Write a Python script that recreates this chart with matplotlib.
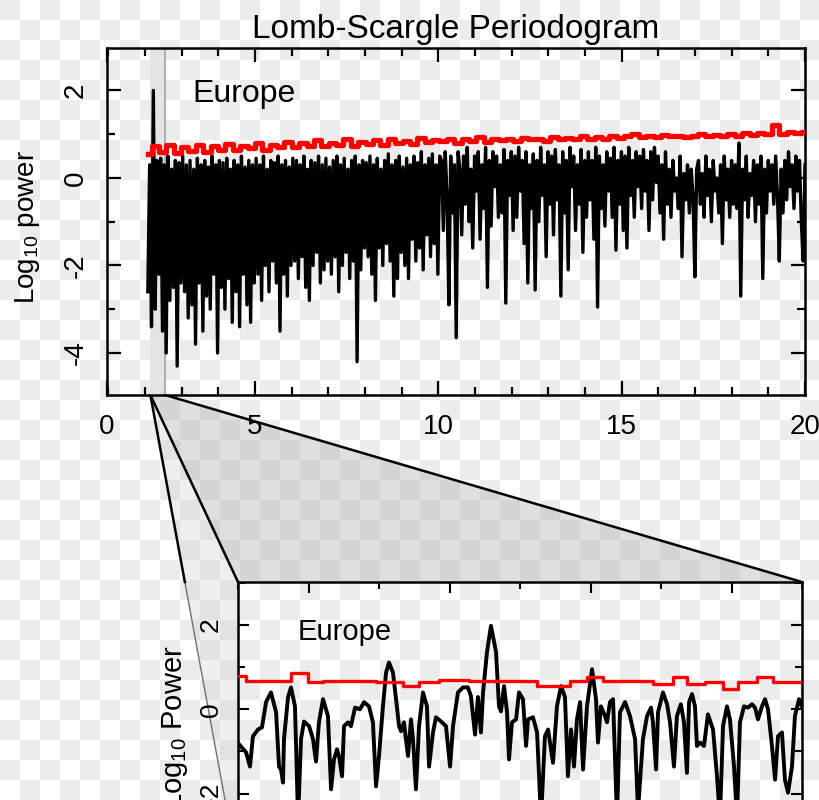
import numpy as np
import matplotlib.pyplot as plt
from matplotlib.patches import ConnectionPatch, Polygon
from matplotlib.lines import Line2D
from matplotlib.ticker import MultipleLocator

plt.rcParams['font.family'] = ['Liberation Sans', 'DejaVu Sans']
plt.rcParams['mathtext.fontset'] = 'custom'
plt.rcParams['mathtext.rm'] = 'Liberation Sans'

# top panel: log10 power, frequency grid 2.08 .. 20
power_top = [
    -2.6, 0.3, -3.4, 2.0, -3.0, 0.4, -2.2, 0.45, -3.5, 0.3, -4.0, 0.5, -2.8, 0.2, -2.5, 0.4, -4.3, 0.35, -2.4, 0.5,
    -2.6, 0.3, -3.2, 0.4, -2.9, 0.2, -3.8, 0.45, -2.4, 0.3, -3.5, 0.4, -2.7, 0.25, -3.0, 0.5, -2.2, 0.3, -4.0, 0.4,
    -2.5, 0.35, -3.0, 0.45, -2.3, 0.2, -3.3, 0.4, -2.6, 0.3, -3.4, 0.5, -2.2, 0.25, -2.9, 0.4, -3.3, 0.3, -2.4, 0.45,
    -2.2, 0.3, -2.8, 0.5, -2.0, 0.2, -2.6, 0.4, -1.9, 0.35, -2.4, 0.5, -3.5, 0.3, -2.2, 0.4, -2.7, 0.25, -2.0, 0.45,
    -1.9, 0.4, -2.3, 0.3, -1.8, 0.5, -2.5, 0.2, -2.8, 0.4, -2.0, 0.35, -1.7, 0.5, -2.4, 0.3, -2.1, 0.45, -1.9, 0.25,
    -2.2, 0.4, -1.8, 0.5, -2.6, 0.3, -2.0, 0.45, -1.7, 0.2, -2.3, 0.4, -1.9, 0.5, -4.2, 0.3, -2.1, 0.4, -1.6, 0.35,
    -1.8, 0.5, -2.2, 0.3, -2.8, 0.45, -1.6, 0.2, -2.0, 0.4, -1.5, 0.55, -1.9, 0.3, -2.7, 0.4, -2.3, 0.5, -1.7, 0.25,
    -2.0, 0.45, -2.3, 0.3, -1.4, 0.5, -1.9, 0.35, -1.6, 0.6, -2.1, 0.3, -1.3, 0.45, -1.8, 0.55, -1.5, 0.3, -2.2, 0.5,
    0.4, -1.2, 0.6, -0.4, -2.9, 0.5, -0.8, 0.3, -3.65, 0.6, 0.2, -1.3, 0.5, -0.6, 0.7, -1.0, 0.2, -1.6, 0.5, -0.3,
    0.6, -1.4, 0.3, -0.7, 0.7, -2.5, 0.4, -1.1, 0.6, -0.2, 0.5, -0.9, 0.3, -0.8, 0.65, -2.86, 0.4, -0.4, 0.6, -1.2,
    0.5, -0.9, 0.7, -0.3, 0.4, -1.5, 0.6, -2.4, 0.3, -0.7, 0.55, -2.56, 0.4, -1.0, 0.7, -0.4, 0.3, -1.8, 0.6, -0.6,
    0.5, -1.3, 0.65, -0.5, 0.3, -2.7, 0.6, -0.8, 0.4, -2.1, 0.7, -0.2, 0.5, -1.2, 0.3, -0.6, 0.65, -1.7, 0.4, -0.9,
    0.6, -0.5, 0.4, -1.4, 0.7, -2.95, 0.5, -0.7, 0.3, -1.1, 0.6, -0.3, 0.45, -0.9, 0.7, -1.65, 0.4, -0.6, 0.6, -1.2,
    0.5, -1.6, 0.7, -0.4, 0.4, -0.9, 0.6, -0.2, 0.5, -0.7, 0.65, -0.3, 0.4, -1.2, 0.6, -0.5, 0.7, -0.1, 0.5, -0.8,
    0.3, -1.4, 0.6, -0.6, 0.2, -0.9, 0.4, -0.3, 0.0, -0.7, 0.5, -1.8, 0.1, -0.5, 0.3, -0.8, 0.2, -0.4, -2.26, 0.2,
    0.4, -0.6, 0.1, -0.9, 0.5, -0.4, 0.2, -1.0, 0.4, -0.3, 0.0, -0.8, 0.3, -1.5, 0.5, -0.5, 0.2, -0.9, 0.4, -0.6,
    0.3, -0.7, 0.8, -2.7, 0.2, -0.5, 0.5, -0.9, 0.1, -0.4, 0.4, -1.0, 0.3, -0.6, 0.5, -2.3, 0.2, -0.8, 0.4, -0.3,
    0.3, -0.6, 0.5, -0.4, -1.9, 0.2, -0.8, 0.4, -0.5, 0.6, -0.2, 0.3, -0.7, 0.5, -0.3, 0.4, -1.0, -1.9, 0.3,
]
freq_top = np.linspace(2.08, 20.0, len(power_top))

# significance level (red)
signif_top = [
    0.55, 0.72, 0.6, 0.75, 0.58, 0.7, 0.62, 0.76, 0.6, 0.72,
    0.65, 0.78, 0.63, 0.74, 0.68, 0.8, 0.64, 0.76, 0.7, 0.82,
    0.7, 0.8, 0.72, 0.86, 0.74, 0.8, 0.76, 0.88, 0.73, 0.82,
    0.78, 0.86, 0.76, 0.9, 0.8, 0.84, 0.78, 0.92, 0.82, 0.86,
    0.84, 0.9, 0.8, 0.88, 0.85, 0.93, 0.83, 0.88, 0.86, 0.9,
    0.85, 0.92, 0.88, 0.9, 0.84, 0.94, 0.88, 0.91, 0.9, 0.95,
    0.9, 0.93, 0.88, 0.97, 0.92, 0.95, 1.0, 0.93, 0.96, 0.94,
    0.98, 0.95, 0.97, 0.93, 0.96, 1.0, 0.96, 0.98, 0.95, 1.0,
    0.97, 1.02, 0.99, 1.03, 1.0, 1.22, 1.0, 1.04, 1.02, 1.06,
]
freq_signif = np.linspace(2.08, 20.0, len(signif_top))

# zoomed panel (2.15 .. 2.55)
freq_zoom = [
    2.1507, 2.1557, 2.1585, 2.1606, 2.1642, 2.1670, 2.1699, 2.1734, 2.1770, 2.1791,
    2.1805, 2.1819, 2.1826, 2.1855, 2.1876, 2.1904, 2.1926, 2.1947, 2.1968, 2.2004,
    2.2032, 2.2053, 2.2074, 2.2103, 2.2138, 2.2160, 2.2181, 2.2202, 2.2216, 2.2238,
    2.2252, 2.2280, 2.2301, 2.2330, 2.2365, 2.2394, 2.2429, 2.2457, 2.2479, 2.2500,
    2.2528, 2.2550, 2.2571, 2.2599, 2.2621, 2.2642, 2.2656, 2.2677, 2.2691, 2.2706,
    2.2727, 2.2741, 2.2762, 2.2784, 2.2812, 2.2840, 2.2855, 2.2883, 2.2904, 2.2940,
    2.2975, 2.3004, 2.3025, 2.3060, 2.3096, 2.3131, 2.3152, 2.3181, 2.3202, 2.3223,
    2.3238, 2.3266, 2.3294, 2.3330, 2.3351, 2.3365, 2.3387, 2.3408, 2.3422, 2.3443,
    2.3472, 2.3493, 2.3521, 2.3543, 2.3557, 2.3592, 2.3621, 2.3649, 2.3677, 2.3699,
    2.3734, 2.3762, 2.3791, 2.3819, 2.3840, 2.3862, 2.3883, 2.3904, 2.3926, 2.3947,
    2.3975, 2.4011, 2.4039, 2.4053, 2.4074, 2.4103, 2.4117, 2.4138, 2.4160, 2.4188,
    2.4209, 2.4245, 2.4280, 2.4316, 2.4337, 2.4372, 2.4401, 2.4429, 2.4443, 2.4465,
    2.4479, 2.4514, 2.4543, 2.4564, 2.4592, 2.4613, 2.4641, 2.4663, 2.4684, 2.4699,
    2.4720, 2.4741, 2.4755, 2.4777, 2.4805, 2.4833, 2.4869, 2.4897, 2.4918, 2.4940,
    2.4968, 2.4989, 2.5018, 2.5039, 2.5060, 2.5089, 2.5117, 2.5145, 2.5167, 2.5188,
    2.5216, 2.5238, 2.5259, 2.5287, 2.5309, 2.5330, 2.5358, 2.5379, 2.5401, 2.5429,
    2.5450, 2.5479, 2.5500,
]
power_zoom = [
    -0.83, -1.02, -1.36, -0.64, -0.48, -0.43, 0.17, 0.40, -0.07, -1.36,
    -1.43, -1.74, -0.71, 0.29, 0.52, 0.07, -2.6, -0.71, -0.29, -0.40,
    -0.71, -1.24, -0.31, 0.24, -0.16, -1.90, -1.19, -0.95, -1.11, -1.59,
    -0.40, -0.31, -0.40, 0.04, 0.0, 0.17, 0.07, -0.31, -1.83, -1.11,
    0.07, 0.87, 1.11, 0.87, 0.24, -0.40, -0.52, -0.31, -0.71, -1.11,
    -0.24, -0.71, -1.90, -0.40, 0.40, 0.07, -1.36, -0.55, -0.19, -0.29,
    -0.40, -1.36, -0.40, 0.40, 0.52, 0.52, 0.31, -0.60, 0.29, -0.55,
    0.40, 1.36, 1.98, 1.36, 0.07, -0.05, 0.55, -0.07, -1.19, -0.31,
    -0.24, 0.40, 0.24, -0.87, -0.24, -0.19, -0.55, -2.6, -0.64, -0.48,
    -1.27, 0.07, 0.55, 0.29, -1.59, -0.48, -1.36, -0.24, 0.17, -1.43,
    0.07, 0.95, 0.24, -0.79, 0.07, -0.16, -0.31, 0.17, 0.24, -2.6,
    -0.07, 0.17, -0.16, -0.71, -2.4, -0.71, -0.16, 0.04, -0.31, -1.43,
    -0.07, 0.40, 0.12, -0.31, -1.36, -0.16, 0.12, -0.31, -1.51, 0.17,
    0.36, 0.07, -0.87, -0.79, -0.87, -0.12, -0.48, -1.59, -2.6, -0.40,
    0.07, -0.24, -1.36, -2.6, -0.31, 0.07, 0.04, 0.12, 0.04, -0.24,
    0.07, 0.24, 0.0, -0.87, -1.67, -0.64, -0.55, -1.67, -1.98, -1.36,
    -0.16, 0.24, 0.07,
]
signif_edges = [2.15, 2.1557, 2.1876, 2.1996, 2.2103, 2.2479, 2.2670, 2.2784, 2.2926, 2.3138,
                2.3351, 2.3621, 2.3855, 2.3975, 2.4089, 2.4443, 2.4585, 2.4684, 2.4812, 2.4940,
                2.5046, 2.5181, 2.5294, 2.55]
signif_zoom = [0.79, 0.67, 0.86, 0.64, 0.67, 0.64, 0.55, 0.64, 0.69, 0.66,
               0.68, 0.55, 0.67, 0.76, 0.67, 0.60, 0.77, 0.60, 0.64, 0.48,
               0.64, 0.76, 0.64, 0.64]

zoom_lo, zoom_hi = 2.15, 2.55

fig = plt.figure(figsize=(8.2, 8.0), dpi=100)

# transparent-png checker background
cells = np.add.outer(np.arange(40), np.arange(41)) % 2 == 0
bg = np.where(np.kron(cells, np.ones((20, 20))), 236, 255).astype(np.uint8)[:800, :820]
fig.figimage(np.dstack([bg] * 3), 0, 0, origin='upper', zorder=-10)

ax1 = fig.add_axes([107 / 820, 1 - 395 / 800, 698 / 820, 347 / 800])
ax2 = fig.add_axes([238 / 820, -120 / 800, 564 / 820, 338 / 800])

for ax in (ax1, ax2):
    ax.set_facecolor('none')
    for s in ax.spines.values():
        s.set_linewidth(1.8)

# top panel
ax1.axvspan(zoom_lo, zoom_hi, color='#e4e4e4', zorder=0.5, lw=0)
ax1.axvline(zoom_hi, color='#b0b0b0', lw=1.5, zorder=0.6)
ax1.plot(freq_top, power_top, color='black', lw=2.4, zorder=2)
ax1.plot(freq_signif, signif_top, color='red', lw=3.8, drawstyle='steps-mid', zorder=3)
ax1.set_xlim(0.967, 20.0)
ax1.set_ylim(-4.96, 2.97)
ax1.set_xticks([0.967, 5, 10, 15, 20], ['0', '5', '10', '15', '20'])
ax1.set_yticks([2, 0, -2, -4], ['2', '0', '-2', '-4'])
ax1.xaxis.set_minor_locator(MultipleLocator(1))
ax1.yaxis.set_minor_locator(MultipleLocator(1))
ax1.tick_params(which='both', direction='in', top=True, right=True, width=1.6, labelsize=20)
ax1.tick_params(which='major', length=10)
ax1.tick_params(which='minor', length=6)
ax1.tick_params(axis='x', pad=14)
ax1.tick_params(axis='y', pad=13, labelrotation=90)
for lbl in ax1.get_yticklabels():
    lbl.set_va('center')
ax1.set_ylabel(r'Log$_{\mathregular{10}}$ power', fontsize=20)
ax1.yaxis.set_label_coords(-0.093, 0.484)
ax1.set_title('Lomb-Scargle Periodogram', fontsize=24, pad=7)
ax1.text(0.123, 1.74, 'Europe', transform=ax1.get_yaxis_transform(), fontsize=23, va='baseline')

# zoomed panel
ax2.plot(freq_zoom, power_zoom, color='black', lw=2.8, zorder=2, solid_joinstyle='round')
ax2.plot(signif_edges, signif_zoom, color='red', lw=2.4, drawstyle='steps-post', zorder=3)
ax2.set_xlim(zoom_lo, zoom_hi)
ax2.set_ylim(-5, 3.02)
ax2.xaxis.set_major_locator(MultipleLocator(0.1))
ax2.xaxis.set_minor_locator(MultipleLocator(0.05))
ax2.set_yticks([2, 0, -2, -4], ['2', '0', '-2', '-4'])
ax2.yaxis.set_minor_locator(MultipleLocator(1))
ax2.tick_params(which='both', direction='in', top=True, right=True, width=1.5, labelsize=19,
                labelbottom=False)
ax2.tick_params(which='major', length=8)
ax2.tick_params(which='minor', length=5)
ax2.tick_params(axis='y', pad=11, labelrotation=90)
for lbl in ax2.get_yticklabels():
    lbl.set_va('center')
ax2.set_ylabel(r'Log$_{\mathregular{10}}$ Power', fontsize=21)
ax2.yaxis.set_label_coords(-0.085, 0.568)
ax2.text(0.105, 1.65, 'Europe', transform=ax2.get_yaxis_transform(), fontsize=21, va='baseline')

# zoom connector
to_fig = fig.transFigure.inverted()
a = to_fig.transform(ax1.transData.transform((zoom_lo, -4.96)))
b = to_fig.transform(ax1.transData.transform((zoom_hi, -4.96)))
c = to_fig.transform(ax2.transData.transform((zoom_hi, 3.02)))
d = to_fig.transform(ax2.transData.transform((zoom_lo, 3.02)))
e = to_fig.transform(ax2.transAxes.transform((-0.023, 0.355)))
f = to_fig.transform(ax2.transAxes.transform((0.0, 0.355)))
fig.add_artist(Polygon([a, b, c, d], closed=True, transform=fig.transFigure,
                       facecolor='#b8b8b8', alpha=0.45, lw=0, zorder=-5))
fig.add_artist(Polygon([a, d, f, e], closed=True, transform=fig.transFigure,
                       facecolor='#d0d0d0', alpha=0.35, lw=0, zorder=-5))
t = (a[1] - d[1]) / (a[1] - e[1])
m = a + t * (e - a)
fig.add_artist(Line2D([m[0], e[0]], [m[1], e[1]], transform=fig.transFigure,
                      color='#707070', lw=1.0, zorder=-4))
fig.add_artist(Line2D([a[0], m[0]], [a[1], m[1]], transform=fig.transFigure,
                      color='black', lw=1.8, zorder=-3))
for xa in (zoom_lo, zoom_hi):
    fig.add_artist(ConnectionPatch(xyA=(xa, -4.96), coordsA=ax1.transData,
                                   xyB=(xa, 3.02), coordsB=ax2.transData,
                                   color='black', lw=1.8, zorder=-3))

fig.savefig('out.png', dpi=100)
